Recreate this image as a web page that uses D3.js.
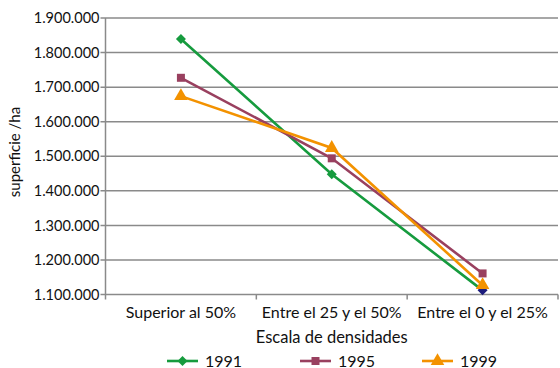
<!DOCTYPE html>
<html>
<head>
<meta charset="utf-8">
<script src="https://cdn.jsdelivr.net/npm/d3@7"></script>
<style>
  html, body { margin: 0; padding: 0; background: #fff; }
  svg { display: block; font-family: Lato, "Open Sans", sans-serif; }
</style>
</head>
<body>
<svg id="chart" width="560" height="368"></svg>
<script>
// Superficie por escala de densidad, tres campañas
const categories = ["Superior al 50%", "Entre el 25 y el 50%", "Entre el 0 y el 25%"];
const years = ["1991", "1995", "1999"];
const values1991 = [1839000, 1448000, 1112000];
const values1995 = [1727000, 1494000, 1161000];
const values1999 = [1674000, 1524000, 1127000];
const yTicks = [1100000, 1200000, 1300000, 1400000, 1500000, 1600000, 1700000, 1800000, 1900000];

const seriesList = [
  { name: years[0], values: values1991, color: "#169b3e", marker: "diamond" },
  { name: years[1], values: values1995, color: "#99405f", marker: "square" },
  { name: years[2], values: values1999, color: "#f39200", marker: "triangle" }
];

const svg = d3.select("#chart");
const margin = { left: 105.5, right: 2, top: 18, bottom: 73.5 };
const W = 560, H = 368;
const textColor = "#111";

const x = d3.scaleBand().domain(categories).range([margin.left, W - margin.right]);
const y = d3.scaleLinear().domain([1100000, 1900000]).range([H - margin.bottom, margin.top]);

const fmt = v => d3.format(",")(v).replace(/,/g, ".");
const gridColor = "#8a8a8a";

// horizontal gridlines, each running slightly left of the axis as a tick
const gGrid = svg.append("g");
gGrid.selectAll("line").data(yTicks).join("line")
  .attr("x1", margin.left - 5).attr("x2", W - margin.right)
  .attr("y1", d => y(d)).attr("y2", d => y(d))
  .attr("stroke", gridColor).attr("stroke-width", 1.5);

// y tick labels
const gyl = svg.append("g")
  .attr("transform", `translate(${margin.left},0)`)
  .call(d3.axisLeft(y).tickValues(yTicks).tickFormat(fmt).tickSize(0).tickPadding(6));
gyl.select(".domain").remove();
gyl.selectAll("text").attr("font-size", 14.5).attr("fill", textColor)
  .attr("font-family", "Lato, sans-serif");

// vertical axis line
svg.append("line")
  .attr("x1", margin.left).attr("x2", margin.left)
  .attr("y1", margin.top).attr("y2", y(1100000) + 5)
  .attr("stroke", gridColor).attr("stroke-width", 1.5);

// category boundary ticks on x axis
const boundaries = categories.map(c => x(c)).concat([x(categories[categories.length - 1]) + x.bandwidth()]);
svg.append("g").selectAll("line").data(boundaries.slice(1)).join("line")
  .attr("x1", d => d).attr("x2", d => d)
  .attr("y1", y(1100000)).attr("y2", y(1100000) + 5)
  .attr("stroke", gridColor).attr("stroke-width", 1.5);

// x category labels
const gx = svg.append("g")
  .attr("transform", `translate(0,${y(1100000)})`)
  .call(d3.axisBottom(x).tickSize(0).tickPadding(12));
gx.select(".domain").remove();
gx.selectAll("text").attr("font-size", 16).attr("fill", textColor)
  .attr("font-family", "Lato, sans-serif");

// axis titles
svg.append("text")
  .attr("x", (margin.left + W - margin.right) / 2).attr("y", 343)
  .attr("text-anchor", "middle").attr("font-size", 16.5).attr("fill", textColor)
  .text("Escala de densidades");
svg.append("text")
  .attr("transform", `translate(20,152) rotate(-90)`)
  .attr("text-anchor", "middle").attr("font-size", 15).attr("fill", textColor)
  .text("superficie /ha");

// marker shapes: the diamond is a square turned 45 degrees
const markerPath = m => m === "diamond" ? d3.symbol().type(d3.symbolSquare).size(50)()
  : m === "square" ? d3.symbol().type(d3.symbolSquare).size(64)()
  : d3.symbol().type(d3.symbolTriangle).size(80)();
const markerRot = m => m === "diamond" ? " rotate(45)" : "";

const cx = c => x(c) + x.bandwidth() / 2;
const line = d3.line().x((d, i) => cx(categories[i])).y(d => y(d));

seriesList.forEach(s => {
  const g = svg.append("g");
  g.append("path").datum(s.values)
    .attr("d", line).attr("fill", "none")
    .attr("stroke", s.color).attr("stroke-width", 2.6);
  g.selectAll("path.mk").data(s.values).join("path")
    .attr("class", "mk")
    .attr("d", markerPath(s.marker))
    .attr("transform", (d, i) => `translate(${cx(categories[i])},${y(d)})${markerRot(s.marker)}`)
    .attr("fill", (d, i) => (s.name === "1991" && i === 2) ? "#1c1c7c" : s.color);
});

// legend
const legendItems = [
  { x0: 167, tx: 205 },
  { x0: 300, tx: 338 },
  { x0: 422, tx: 460 }
];
seriesList.forEach((s, i) => {
  const L = legendItems[i];
  const ly = 361;
  svg.append("line").attr("x1", L.x0).attr("x2", L.x0 + 31)
    .attr("y1", ly).attr("y2", ly).attr("stroke", s.color).attr("stroke-width", 2.6);
  svg.append("path").attr("d", markerPath(s.marker))
    .attr("transform", `translate(${L.x0 + 15.5},${ly})${markerRot(s.marker)}`).attr("fill", s.color);
  svg.append("text").attr("x", L.tx).attr("y", 366.5)
    .attr("font-size", 16).attr("fill", textColor).text(s.name);
});
</script>
</body>
</html>
